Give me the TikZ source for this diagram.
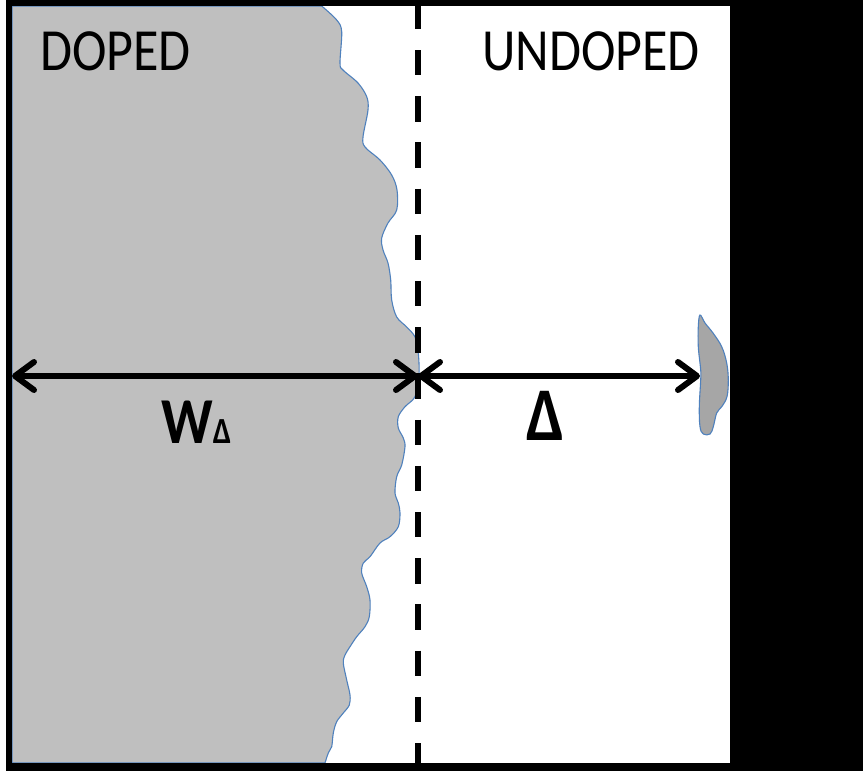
\documentclass[tikz,border=0pt]{standalone}
\usepackage{fontspec}
\setmainfont{Carlito}
\usetikzlibrary{arrows.meta}
\definecolor{dopedgray}{RGB}{191,191,191}
\definecolor{islandgray}{RGB}{166,166,166}
\definecolor{edgeblue}{RGB}{79,129,189}
\newcommand{\talltext}[1]{\scalebox{1}[1.15]{#1}}

\begin{document}
\begin{tikzpicture}[x=1pt,y=-1pt,
  region label/.style={inner sep=0, anchor=base, font=\fontsize{52}{60}\selectfont},
  dim label/.style={inner sep=0, anchor=base, font=\bfseries\fontsize{57}{64}\selectfont},
  dim arrow/.style={line width=6pt, >={Straight Barb[length=19pt,width=28pt,round]}, <->},
  front edge/.style={draw=edgeblue, line width=1.1pt},
  divider/.style={line width=6pt, dash pattern=on 25.3pt off 20.9pt}]

% frame: black surround, white sample area
\fill[black] (0,0) rectangle (863,771);
\fill[white] (0,0) rectangle (6,771);
\fill[white] (12,6) rectangle (730,763);

% doped region, closed along the frame, outlined in blue
\filldraw[fill=dopedgray, front edge] (12,6) -- plot[smooth, tension=0.55] coordinates {
  (321.7,6) (336.7,20) (341.7,31.7) (340,63) (343,70) (358,83) (366.7,96.7)
  (368,110) (363,137) (365,147) (380,160) (391.7,175) (397,190) (396.7,210)
  (388,223) (381.7,238) (383,250) (388,263) (390.7,280) (391.7,300) (396.7,317)
  (406.7,327) (415,337) (418.3,353) (419,377) (415,396.7) (405,406.7)
  (398.3,416.7) (398.3,428) (403.3,438) (405,446.7) (401.7,465) (396.7,476.7)
  (395,493) (398.3,503) (400,513) (398.3,526.7) (390,536.7) (380,543)
  (370,556.7) (363.3,563) (361.7,573) (366.7,586.7) (370,600) (369.3,616.7)
  (365,626.7) (356.7,636.7) (350,646.7) (345,655) (343.3,663) (346.7,680)
  (350,695) (349.3,705) (343.3,713) (336.7,721.7) (333.3,733) (331.7,746.7)
  (328.3,753) (325,763)} -- (12,763) -- cycle;

% frame lines drawn again over the closing edges of the doped region
\fill[black] (6,0) rectangle (12,771);
\fill[black] (0,0) rectangle (863,6);
\fill[black] (0,763) rectangle (863,771);
\fill[white] (0,0) rectangle (6,771);

% isolated doped island ahead of the front
\filldraw[fill=islandgray, front edge] plot[smooth cycle, tension=0.6] coordinates {
  (700,315) (705,323) (713,333) (721.7,346.7) (726.7,363) (728.3,380)
  (727,396.7) (721.7,406.7) (716.7,413) (713.3,426.7) (710,434) (703.3,434)
  (700,426.7) (699.3,406.7) (700.7,380) (700.7,370) (698.3,346.7) (698.3,326.7)};

% boundary between doped and undoped halves
\draw[divider] (418,3.8) -- (418,763);

% region labels
\node[region label] (doped) at (115.5,70) {\talltext{DOPED}};
\node[region label] (undoped) at (591,70) {\talltext{UNDOPED}};

% dimension arrows
\coordinate (wall) at (12,376);
\coordinate (front) at (418,376);
\coordinate (island) at (700,376);
\draw[dim arrow] (wall) -- (front);
\draw[dim arrow] (front) -- (island);

\node[dim label, anchor=base west] (wdelta) at (161,443)
  {\talltext{W{\fontsize{32}{36}\selectfont Δ}}};
\node[dim label, font=\bfseries\fontsize{66}{72}\selectfont] (delta) at (545.5,440) {\talltext{Δ}};
\end{tikzpicture}
\end{document}
